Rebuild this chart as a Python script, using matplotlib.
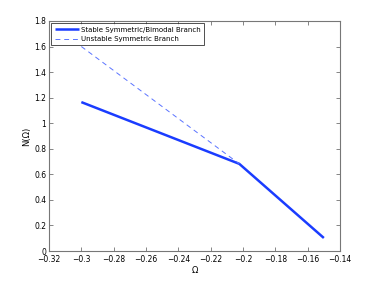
import matplotlib
matplotlib.use("Agg")
import matplotlib.pyplot as plt

# stable symmetric/bimodal branch
omega_stable = [-0.30, -0.2023, -0.150]
n_stable = [1.165, 0.682, 0.102]

# unstable symmetric branch
omega_unstable = [-0.30, -0.2023]
n_unstable = [1.60, 0.682]

xticks = [-0.32, -0.3, -0.28, -0.26, -0.24, -0.22, -0.2, -0.18, -0.16, -0.14]
yticks = [0, 0.2, 0.4, 0.6, 0.8, 1, 1.2, 1.4, 1.6, 1.8]

plt.rcParams['font.family'] = ['DejaVu Sans']
fig = plt.figure(figsize=(3.75, 2.83), dpi=100)
ax = fig.add_axes([0.1307, 0.113, 0.776, 0.813])

ax.plot(omega_stable, n_stable, color='#1a3cff', lw=1.8, solid_capstyle='butt',
        label='Stable Symmetric/Bimodal Branch')
ax.plot(omega_unstable, n_unstable, color='#5a73ff', lw=0.7, ls=(0, (5, 4)),
        label='Unstable Symmetric Branch')

ax.set_xlim(-0.32, -0.14)
ax.set_ylim(0, 1.8)
ax.set_xticks(xticks)
ax.set_xticklabels([('%g' % t).replace('-', '\u2212') for t in xticks])
ax.set_yticks(yticks)
ax.set_yticklabels(['%g' % t for t in yticks])
ax.tick_params(axis='x', pad=3)
ax.tick_params(direction='in', length=3, width=0.5, labelsize=5.5,
               top=True, right=True, colors='#555555', labelcolor='black')
ax.tick_params(axis='y', pad=2)
for s in ax.spines.values():
    s.set_color('#777777')
    s.set_linewidth(0.8)

ax.set_xlabel('\u03a9', fontsize=6, labelpad=1)
ax.set_ylabel('N(\u03a9)', fontsize=6, labelpad=2)

leg = ax.legend(loc='upper left', fontsize=5.0, frameon=True, fancybox=False,
                borderaxespad=0.35, handlelength=3.4, borderpad=0.5,
                labelspacing=0.45, handletextpad=0.3)
leg.get_frame().set_edgecolor('black')
leg.get_frame().set_linewidth(0.6)

fig.savefig('out.png', dpi=100)
